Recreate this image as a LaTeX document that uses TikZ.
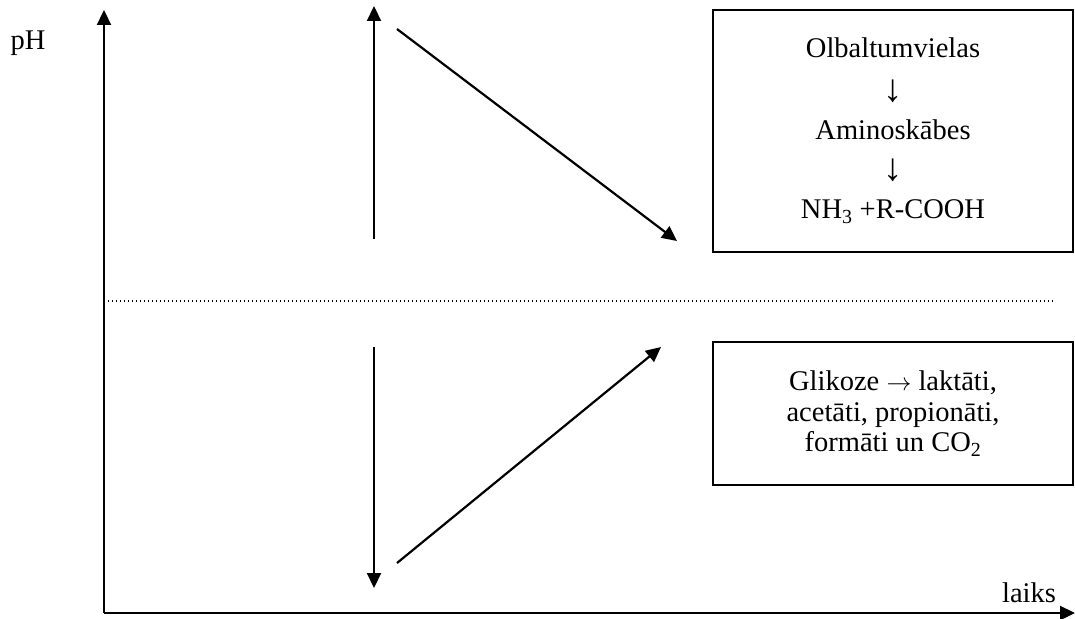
\documentclass[tikz,border=0pt]{standalone}
\usepackage{fontspec}
\setmainfont{Liberation Serif}
\usetikzlibrary{arrows.meta}
\newcommand{\dnarr}{\raisebox{-1pt}{\scalebox{1.35}{↓}}}
\newcommand{\rtarr}{{\fontsize{32}{32}\selectfont$\rightarrow$}}
\begin{document}
\begin{tikzpicture}[x=1pt,y=-1pt,
  axline/.style={line width=2.3pt,-{Triangle[length=15pt,width=14pt]}},
  arr/.style={line width=2.2pt,-{Triangle[length=15pt,width=14pt]}},
  dotline/.style={line width=1.4pt,dash pattern=on 1.4pt off 2.6pt},
  txtbox/.style={draw,line width=1.7pt,align=center,inner sep=0pt,minimum width=360pt},
  lbl/.style={font=\fontsize{28.5}{34}\selectfont,inner sep=0pt}]
\useasboundingbox (0,0) rectangle (1075,618);
% axes
\coordinate (O) at (104,613);
\coordinate (Ytip) at (104,10);
\coordinate (Xtip) at (1075,613);
\draw[axline] (O) -- (Ytip);
\draw[axline] (O) -- (Xtip);
\node[lbl,anchor=base] (ph) at (28,50) {pH};
\node[lbl,anchor=base] (laiks) at (1029,602) {laiks};
% neutral level
\coordinate (d1) at (108,301);
\coordinate (d2) at (1055,301);
\draw[dotline] (d1) -- (d2);
% upper arrows
\coordinate (u1) at (374,239);
\coordinate (u2) at (374,6);
\draw[arr] (u1) -- (u2);
\coordinate (s1) at (397,29);
\coordinate (s2) at (677,241);
\draw[arr] (s1) -- (s2);
% lower arrows
\coordinate (w1) at (374,347);
\coordinate (w2) at (374,588);
\draw[arr] (w1) -- (w2);
\coordinate (r1) at (397,563);
\coordinate (r2) at (661,347);
\draw[arr] (r1) -- (r2);
% boxes
\node[txtbox,minimum height=242pt,font=\fontsize{28.5}{39.5}\selectfont] (b1) at (893,131)
  {\raisebox{3pt}{Olbaltumvielas}\\\dnarr\\Aminoskābes\\\dnarr\\NH\textsubscript{3} +R-COOH};
\node[txtbox,minimum height=143pt,font=\fontsize{28.5}{30.5}\selectfont] (b2) at (893,413.5)
  {Glikoze \rtarr\ laktāti,\\acetāti, propionāti,\\formāti un CO\textsubscript{2}};
\end{tikzpicture}
\end{document}
